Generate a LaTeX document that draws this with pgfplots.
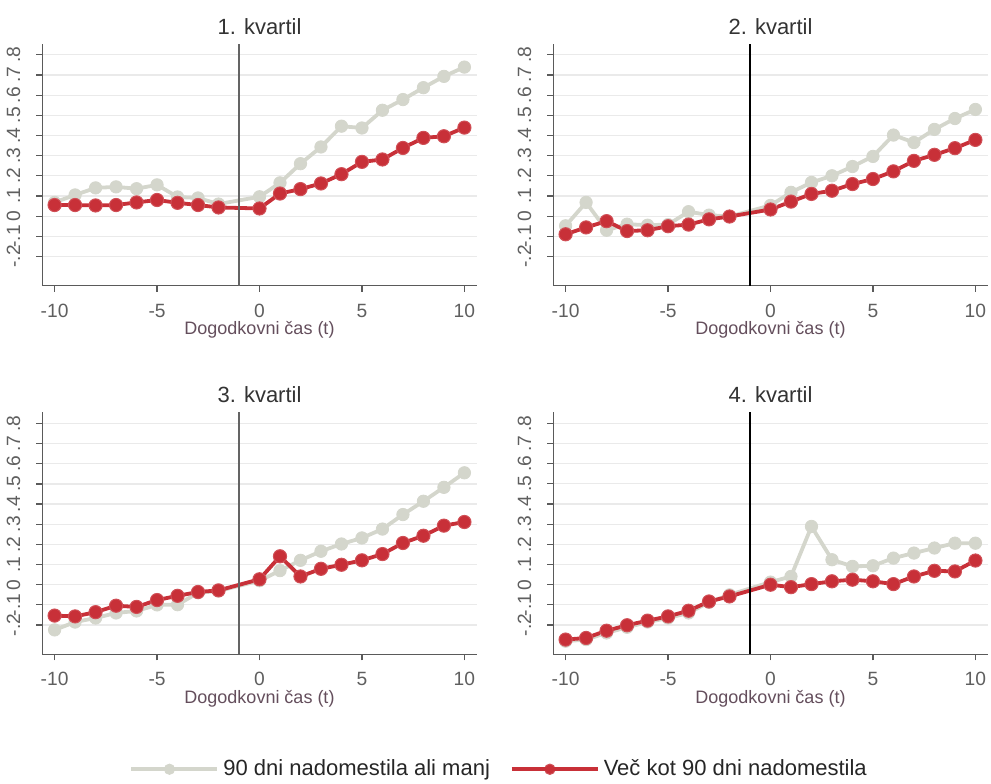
\documentclass[border=0pt]{standalone}
\usepackage{fontspec}
\setmainfont{Liberation Sans}
\usepackage{pgfplots}
\usepackage{pgfplotstable}
\pgfplotsset{compat=1.18}

\definecolor{lowcol}{RGB}{212,214,204}
\definecolor{highcol}{RGB}{200,48,56}
\definecolor{axcol}{RGB}{90,90,90}
\definecolor{gridcol}{RGB}{234,234,234}
\definecolor{labcol}{RGB}{100,78,92}
\definecolor{tickcol}{RGB}{95,95,95}
\definecolor{vgray}{RGB}{100,100,100}

% event time t, coefficient for <=90 days (lo) and >90 days (hi)
\pgfplotstableread{
t   lo      hi
-10 0.068   0.055
-9  0.105   0.055
-8  0.140   0.053
-7  0.145   0.055
-6  0.136   0.068
-5  0.155   0.080
-4  0.095   0.066
-3  0.090   0.055
-2  0.060   0.043
0   0.096   0.038
1   0.165   0.112
2   0.260   0.134
3   0.343   0.162
4   0.446   0.208
5   0.437   0.269
6   0.525   0.281
7   0.578   0.338
8   0.637   0.388
9   0.693   0.396
10  0.739   0.439
}\qone
\pgfplotstableread{
t   lo      hi
-10 -0.048  -0.090
-9  0.068   -0.056
-8  -0.070  -0.025
-7  -0.040  -0.074
-6  -0.045  -0.070
-5  -0.042  -0.050
-4  0.022   -0.042
-3  0.005   -0.016
-2  -0.002  -0.002
0   0.053   0.033
1   0.118   0.072
2   0.167   0.110
3   0.200   0.126
4   0.246   0.159
5   0.296   0.184
6   0.402   0.222
7   0.365   0.274
8   0.430   0.304
9   0.484   0.337
10  0.529   0.378
}\qtwo
\pgfplotstableread{
t   lo      hi
-10 -0.224  -0.153
-9  -0.185  -0.157
-8  -0.165  -0.136
-7  -0.140  -0.104
-6  -0.130  -0.110
-5  -0.100  -0.076
-4  -0.099  -0.055
-3  -0.040  -0.036
-2  -0.031  -0.028
0   0.020   0.027
1   0.070   0.141
2   0.121   0.041
3   0.166   0.079
4   0.202   0.099
5   0.232   0.121
6   0.276   0.152
7   0.348   0.207
8   0.414   0.243
9   0.483   0.293
10  0.555   0.311
}\qthree
\pgfplotstableread{
t   lo      hi
-10 -0.280  -0.272
-9  -0.272  -0.264
-8  -0.239  -0.228
-7  -0.211  -0.201
-6  -0.185  -0.178
-5  -0.165  -0.157
-4  -0.140  -0.129
-3  -0.087  -0.083
-2  -0.050  -0.058
0   0.013   0.000
1   0.041   -0.012
2   0.289   0.003
3   0.124   0.017
4   0.091   0.025
5   0.094   0.017
6   0.132   0.003
7   0.157   0.041
8   0.182   0.069
9   0.206   0.066
10  0.206   0.120
}\qfour

\pgfplotsset{
  every axis title/.style={at={(axis description cs:0.5,1)}, anchor=base,
    yshift=4.85pt, font=\fontsize{11}{12}\selectfont, text=black!80},
  panel/.style={
    scale only axis, width=217.2pt, height=121pt,
    xmin=-10.6, xmax=10.6, ymin=-0.345, ymax=0.855,
    axis x line*=bottom, axis y line*=left,
    axis line style={-, axcol, line width=0.7pt},
    xtick={-10,-5,0,5,10}, xticklabels={-10,-5,0,5,10},
    ytick={-0.2,-0.1,0,0.1,0.2,0.3,0.4,0.5,0.6,0.7,0.8},
    yticklabels={-.2,-.1,0,.1,.2,.3,.4,.5,.6,.7,.8},
    tick align=outside, major tick length=3pt,
    tick style={axcol, line width=0.6pt},
    ymajorgrids, grid style={gridcol, line width=0.6pt},
    xticklabel style={font=\fontsize{9.6}{10}\selectfont, text=tickcol, yshift=-2.6pt},
    yticklabel style={font=\fontsize{9.6}{10}\selectfont, text=tickcol,
      xshift=-4.5pt, rotate=90, anchor=south},
    xlabel={Dogodkovni čas (t)},
    xlabel style={font=\fontsize{9}{10}\selectfont, text=labcol,
      at={(axis description cs:0.5,0)}, anchor=base, yshift=-24.6pt},
    clip=false,
  },
  lowline/.style={lowcol, line width=1.9pt, mark=*, mark size=3.1pt,
    mark options={fill=lowcol, draw=lowcol, line width=0.4pt}},
  highline/.style={highcol, line width=1.9pt, mark=*, mark size=3.3pt,
    mark options={fill=highcol, draw=highcol!85!white, line width=0.5pt}},
}

\begin{document}
\begin{tikzpicture}
\path[use as bounding box] (0,0) rectangle (495.5pt,391.5pt);

% upper left
\begin{axis}[panel, at={(21.15pt,248.65pt)}, anchor=south west, title={1. kvartil}]
  \addplot[lowline] table[x=t, y=lo] {\qone};
  \addplot[highline] table[x=t, y=hi] {\qone};
  \addplot[vgray, line width=1.4pt, mark=none] coordinates {(-1,-0.345) (-1,0.855)};
\end{axis}

% upper right
\begin{axis}[panel, at={(276.65pt,248.65pt)}, anchor=south west, title={2. kvartil}]
  \addplot[lowline] table[x=t, y=lo] {\qtwo};
  \addplot[highline] table[x=t, y=hi] {\qtwo};
  \addplot[black, line width=0.9pt, mark=none] coordinates {(-1,-0.345) (-1,0.855)};
\end{axis}

% lower left, carries the legend
\begin{axis}[panel, at={(21.15pt,64.35pt)}, anchor=south west, title={3. kvartil},
    legend style={at={(axis description cs:1.054,-0.475)}, anchor=center,
      draw=none, fill=none, legend columns=2,
      font=\fontsize{11}{12}\selectfont, text=black!85,
      /tikz/every even column/.append style={column sep=8pt}},
    legend image code/.code={%
      \draw[#1, mark size=2.6pt, mark repeat=2, mark phase=2]
        plot coordinates {(0pt,0pt) (19pt,0pt) (38pt,0pt)};
      \path (0pt,0pt) -- (43pt,0pt);}]
  \addplot[lowline] table[x=t, y=lo] {\qthree};
  \addlegendentry{90 dni nadomestila ali manj}
  \addplot[highline] table[x=t, y=hi] {\qthree};
  \addlegendentry{Več kot 90 dni nadomestila}
  \addplot[vgray, line width=1.4pt, mark=none, forget plot] coordinates {(-1,-0.345) (-1,0.855)};
\end{axis}

% lower right
\begin{axis}[panel, at={(276.65pt,64.35pt)}, anchor=south west, title={4. kvartil}]
  \addplot[lowline] table[x=t, y=lo] {\qfour};
  \addplot[highline] table[x=t, y=hi] {\qfour};
  \addplot[black, line width=0.9pt, mark=none] coordinates {(-1,-0.345) (-1,0.855)};
\end{axis}
\end{tikzpicture}
\end{document}
